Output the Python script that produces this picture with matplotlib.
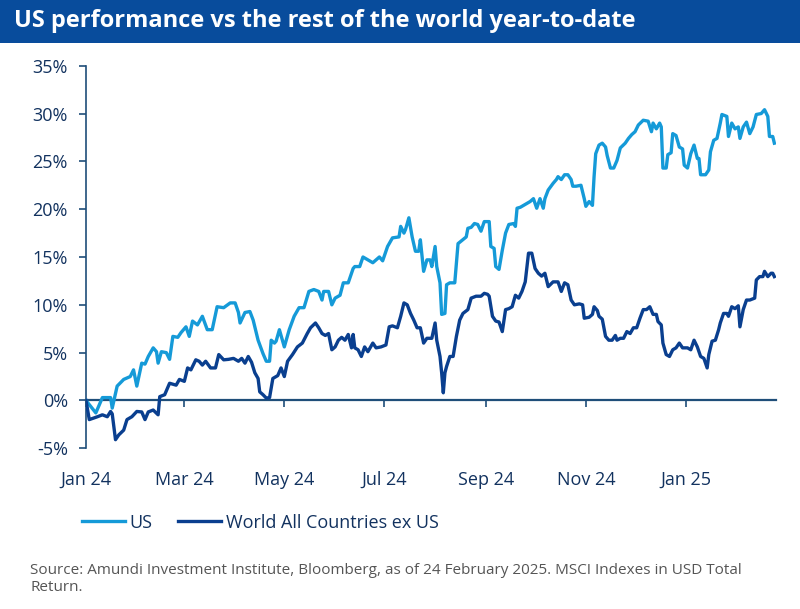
import matplotlib
matplotlib.use("Agg")
import matplotlib.pyplot as plt
from matplotlib.patches import Rectangle
import pandas as pd

plt.rcParams['font.family'] = ['Open Sans', 'DejaVu Sans']

# day offsets from 1 Jan 2024 and cumulative return (%)
us_days = [0, 6, 10, 15, 16, 19, 23, 27, 29, 31, 34, 36, 38, 41, 43, 44, 46, 49, 51, 53,
           56, 58, 61, 63, 65, 68, 71, 74, 77, 80, 84, 88, 91, 93, 94, 97, 100, 102, 105, 108,
           110, 112, 113, 115, 116, 118, 121, 124, 127, 130, 133, 136, 139, 142, 144, 145, 148, 150, 152, 155,
           157, 160, 163, 164, 167, 169, 172, 175, 179, 181, 184, 187, 191, 192, 194, 195, 197, 199, 201, 203,
           204, 206, 208, 210, 211, 213, 214, 216, 217, 219, 220, 222, 225, 227, 232, 233, 235, 237, 239, 241,
           243, 246, 247, 249, 250, 252, 254, 256, 258, 261, 262, 263, 265, 267, 269, 271, 273, 275, 277, 279,
           280, 282, 285, 287, 288, 290, 292, 294, 296, 297, 299, 302, 304, 305, 307, 309, 310, 311, 313, 315,
           317, 318, 320, 322, 324, 326, 329, 331, 333, 335, 337, 340, 343, 345, 346, 348, 350, 351, 352, 354,
           355, 357, 358, 360, 362, 364, 365, 367, 369, 371, 373, 374, 375, 378, 380, 381, 383, 385, 387, 388,
           391, 392, 394, 396, 398, 399, 401, 403, 405, 407, 409, 412, 414, 416, 417, 419, 420]
us_vals = [0.0, -1.3, 0.3, 0.3, -0.8, 1.5, 2.2, 2.5, 3.2, 1.5, 3.9, 3.8, 4.6, 5.5, 5.1, 3.9, 5.1, 5.0, 4.3, 6.7,
           6.6, 7.1, 7.7, 6.7, 8.3, 7.9, 8.8, 7.4, 7.4, 9.8, 9.7, 10.2, 10.2, 9.2, 8.1, 9.2, 9.3, 8.4, 6.3, 4.9,
           4.1, 4.1, 6.3, 6.0, 6.2, 7.4, 5.6, 7.4, 8.8, 9.7, 9.7, 11.4, 11.6, 11.4, 10.5, 11.4, 11.4, 10.0, 10.7, 11.0,
           12.3, 12.3, 13.8, 14.0, 14.0, 15.0, 14.7, 14.4, 15.0, 14.6, 16.1, 17.0, 17.1, 18.2, 17.5, 17.9, 19.1, 17.1, 15.6, 15.6,
           16.8, 13.5, 14.7, 14.7, 14.0, 16.1, 14.0, 12.3, 9.0, 9.1, 12.1, 12.3, 12.3, 16.4, 17.1, 18.0, 18.1, 18.5, 18.4, 17.7,
           18.7, 18.7, 16.1, 15.9, 14.0, 13.7, 15.7, 17.5, 18.4, 18.5, 18.2, 20.1, 20.2, 20.4, 20.6, 20.8, 21.1, 20.1, 21.1, 20.1,
           21.1, 22.0, 22.7, 23.1, 23.4, 23.1, 23.6, 23.6, 23.1, 22.4, 22.4, 22.5, 21.1, 20.3, 20.8, 20.4, 23.4, 25.8, 26.7, 26.9,
           26.5, 25.6, 24.3, 24.3, 25.1, 26.4, 26.9, 27.4, 27.8, 28.1, 28.8, 29.3, 29.2, 28.1, 29.0, 28.4, 29.0, 28.6, 24.3, 24.3,
           25.7, 25.9, 27.9, 27.7, 26.5, 26.3, 24.6, 24.3, 25.8, 26.7, 25.3, 25.3, 23.6, 23.6, 24.1, 26.0, 27.2, 27.4, 29.0, 29.9,
           29.7, 27.6, 29.0, 28.4, 28.6, 27.4, 28.6, 29.1, 27.9, 28.6, 29.9, 30.0, 30.4, 29.7, 27.6, 27.6, 26.9]

world_days = [0, 2, 7, 10, 13, 15, 16, 18, 20, 23, 25, 28, 31, 34, 36, 38, 41, 44, 45, 48,
              51, 55, 57, 60, 62, 64, 67, 69, 71, 73, 76, 79, 81, 84, 87, 90, 93, 95, 97, 99,
              101, 103, 105, 106, 108, 110, 112, 114, 117, 119, 121, 123, 126, 129, 132, 135, 137, 140, 142, 144,
              146, 148, 150, 152, 154, 156, 158, 160, 162, 163, 164, 166, 168, 170, 172, 175, 177, 180, 183, 185,
              187, 190, 192, 194, 196, 198, 200, 202, 204, 206, 208, 211, 213, 214, 216, 217, 218, 219, 220, 222,
              224, 226, 228, 230, 233, 235, 238, 241, 243, 245, 246, 248, 250, 252, 254, 256, 258, 260, 262, 264,
              266, 268, 270, 272, 274, 276, 278, 280, 282, 285, 288, 290, 292, 294, 296, 298, 301, 303, 304, 307,
              309, 310, 312, 313, 315, 317, 319, 321, 323, 324, 326, 328, 330, 332, 334, 336, 338, 340, 342, 344,
              346, 348, 349, 351, 352, 354, 356, 358, 360, 362, 364, 367, 369, 371, 373, 375, 377, 379, 380, 382,
              384, 386, 387, 389, 391, 392, 394, 396, 398, 399, 401, 403, 405, 408, 409, 411, 413, 414, 416, 418,
              419, 420]
world_vals = [0.0, -2.0, -1.7, -1.5, -1.7, -1.15, -1.4, -4.1, -3.6, -3.1, -2.0, -1.7, -1.15, -1.2, -2.0, -1.2, -1.0, -1.5, 0.4, 0.6,
              1.8, 1.6, 2.2, 2.0, 3.4, 3.2, 4.25, 4.1, 3.7, 4.1, 3.4, 3.4, 4.8, 4.25, 4.3, 4.4, 4.1, 4.4, 3.9, 4.6,
              4.0, 2.9, 2.3, 0.9, 0.6, 0.25, 0.3, 2.3, 2.6, 3.4, 2.5, 4.1, 4.8, 5.6, 6.0, 7.0, 7.6, 8.1, 7.6, 7.0,
              6.8, 7.0, 5.3, 5.6, 6.3, 6.6, 6.3, 6.9, 5.5, 6.9, 5.5, 5.3, 4.6, 5.6, 5.1, 6.0, 5.5, 5.6, 5.8, 7.7,
              7.8, 7.6, 8.8, 10.2, 10.0, 9.1, 8.4, 7.6, 7.6, 6.0, 6.5, 6.5, 8.1, 6.3, 4.6, 2.9, 0.8, 2.9, 3.55, 4.6,
              4.6, 6.7, 8.4, 9.1, 9.5, 10.7, 10.9, 10.9, 11.2, 11.1, 10.9, 8.8, 8.3, 8.2, 7.2, 9.5, 9.6, 9.8, 11.0, 10.7,
              11.4, 12.4, 15.4, 15.4, 13.8, 13.3, 13.0, 13.3, 11.9, 12.4, 12.4, 11.4, 12.3, 12.1, 10.5, 10.0, 10.1, 10.0, 8.6, 8.7,
              9.0, 9.8, 9.4, 8.8, 8.5, 6.7, 6.3, 6.3, 6.8, 6.3, 6.5, 6.5, 7.2, 7.0, 7.6, 7.6, 8.6, 9.5, 9.5, 9.8,
              9.0, 9.0, 8.25, 7.9, 6.0, 4.8, 4.6, 5.3, 5.5, 6.0, 5.5, 5.5, 5.3, 6.3, 5.6, 4.6, 4.4, 3.4, 4.8, 6.2,
              6.3, 7.4, 8.1, 9.1, 9.1, 8.8, 9.8, 9.6, 9.9, 7.7, 9.5, 10.5, 10.5, 10.7, 12.6, 12.95, 12.95, 13.5, 12.95, 13.3,
              13.3, 12.95]

tick_months = ["2024-01-01", "2024-03-01", "2024-05-01", "2024-07-01",
               "2024-09-01", "2024-11-01", "2025-01-01"]
tick_labels = ["Jan 24", "Mar 24", "May 24", "Jul 24", "Sep 24", "Nov 24", "Jan 25"]
y_ticks = [-5, 0, 5, 10, 15, 20, 25, 30, 35]

start = pd.Timestamp("2024-01-01")
us_dates = start + pd.to_timedelta(us_days, unit="D")
world_dates = start + pd.to_timedelta(world_days, unit="D")

navy = "#12325f"
axis_col = "#1f4e79"
us_col = "#159ad8"
world_col = "#0a3f8f"

fig = plt.figure(figsize=(8, 6.09), dpi=100)

# title banner
fig.patches.append(Rectangle((0, 0.9294), 1, 0.0706, transform=fig.transFigure,
                             facecolor="#084c9c", edgecolor="none", zorder=0))
fig.text(0.0175, 0.9650, "US performance vs the rest of the world year-to-date",
         color="white", fontsize=17, fontweight="bold", va="center", ha="left")

ax = fig.add_axes([0.1075, 0.2639, 0.8625, 0.6282])
ax.plot(us_dates, us_vals, color=us_col, lw=2.4, label="US", zorder=3)
ax.plot(world_dates, world_vals, color=world_col, lw=2.4,
        label="World All Countries ex US", zorder=4)

ax.set_ylim(-5, 35)
ax.set_xlim(start, pd.Timestamp("2025-02-25"))
ax.set_yticks(y_ticks)
ax.set_yticklabels([f"{v}%" for v in y_ticks])

for s in ["top", "right", "bottom"]:
    ax.spines[s].set_visible(False)
ax.spines["left"].set_color(axis_col)
ax.spines["left"].set_linewidth(1.2)

ax.tick_params(axis="y", colors=axis_col, labelcolor=navy, labelsize=13,
               length=5, width=1.2, pad=8)
ax.set_xticks(pd.to_datetime(tick_months))
ax.set_xticklabels(tick_labels)
ax.tick_params(axis="x", length=0, labelcolor=navy, labelsize=13, pad=16)

# zero line carrying the month ticks
zero = ax.secondary_xaxis(5 / 40)
zero.set_xticks(pd.to_datetime(tick_months))
zero.set_xticklabels([])
zero.spines["bottom"].set_color(axis_col)
zero.spines["bottom"].set_linewidth(1.6)
zero.tick_params(axis="x", direction="out", length=5, width=1.2, colors=axis_col)

ax.legend(loc="center left", bbox_to_anchor=(0.1025, 0.142), bbox_transform=fig.transFigure,
          ncol=2, frameon=False, fontsize=13, handlelength=2.4, handletextpad=0.25,
          columnspacing=1.4, borderpad=0, borderaxespad=0, labelcolor=navy)

fig.text(0.0375, 0.049, "Source: Amundi Investment Institute, Bloomberg, as of 24 February 2025. "
         "MSCI Indexes in USD Total\nReturn.", color="#555555", fontsize=11,
         ha="left", va="center", linespacing=1.2)

fig.savefig("out.png", dpi=100)
